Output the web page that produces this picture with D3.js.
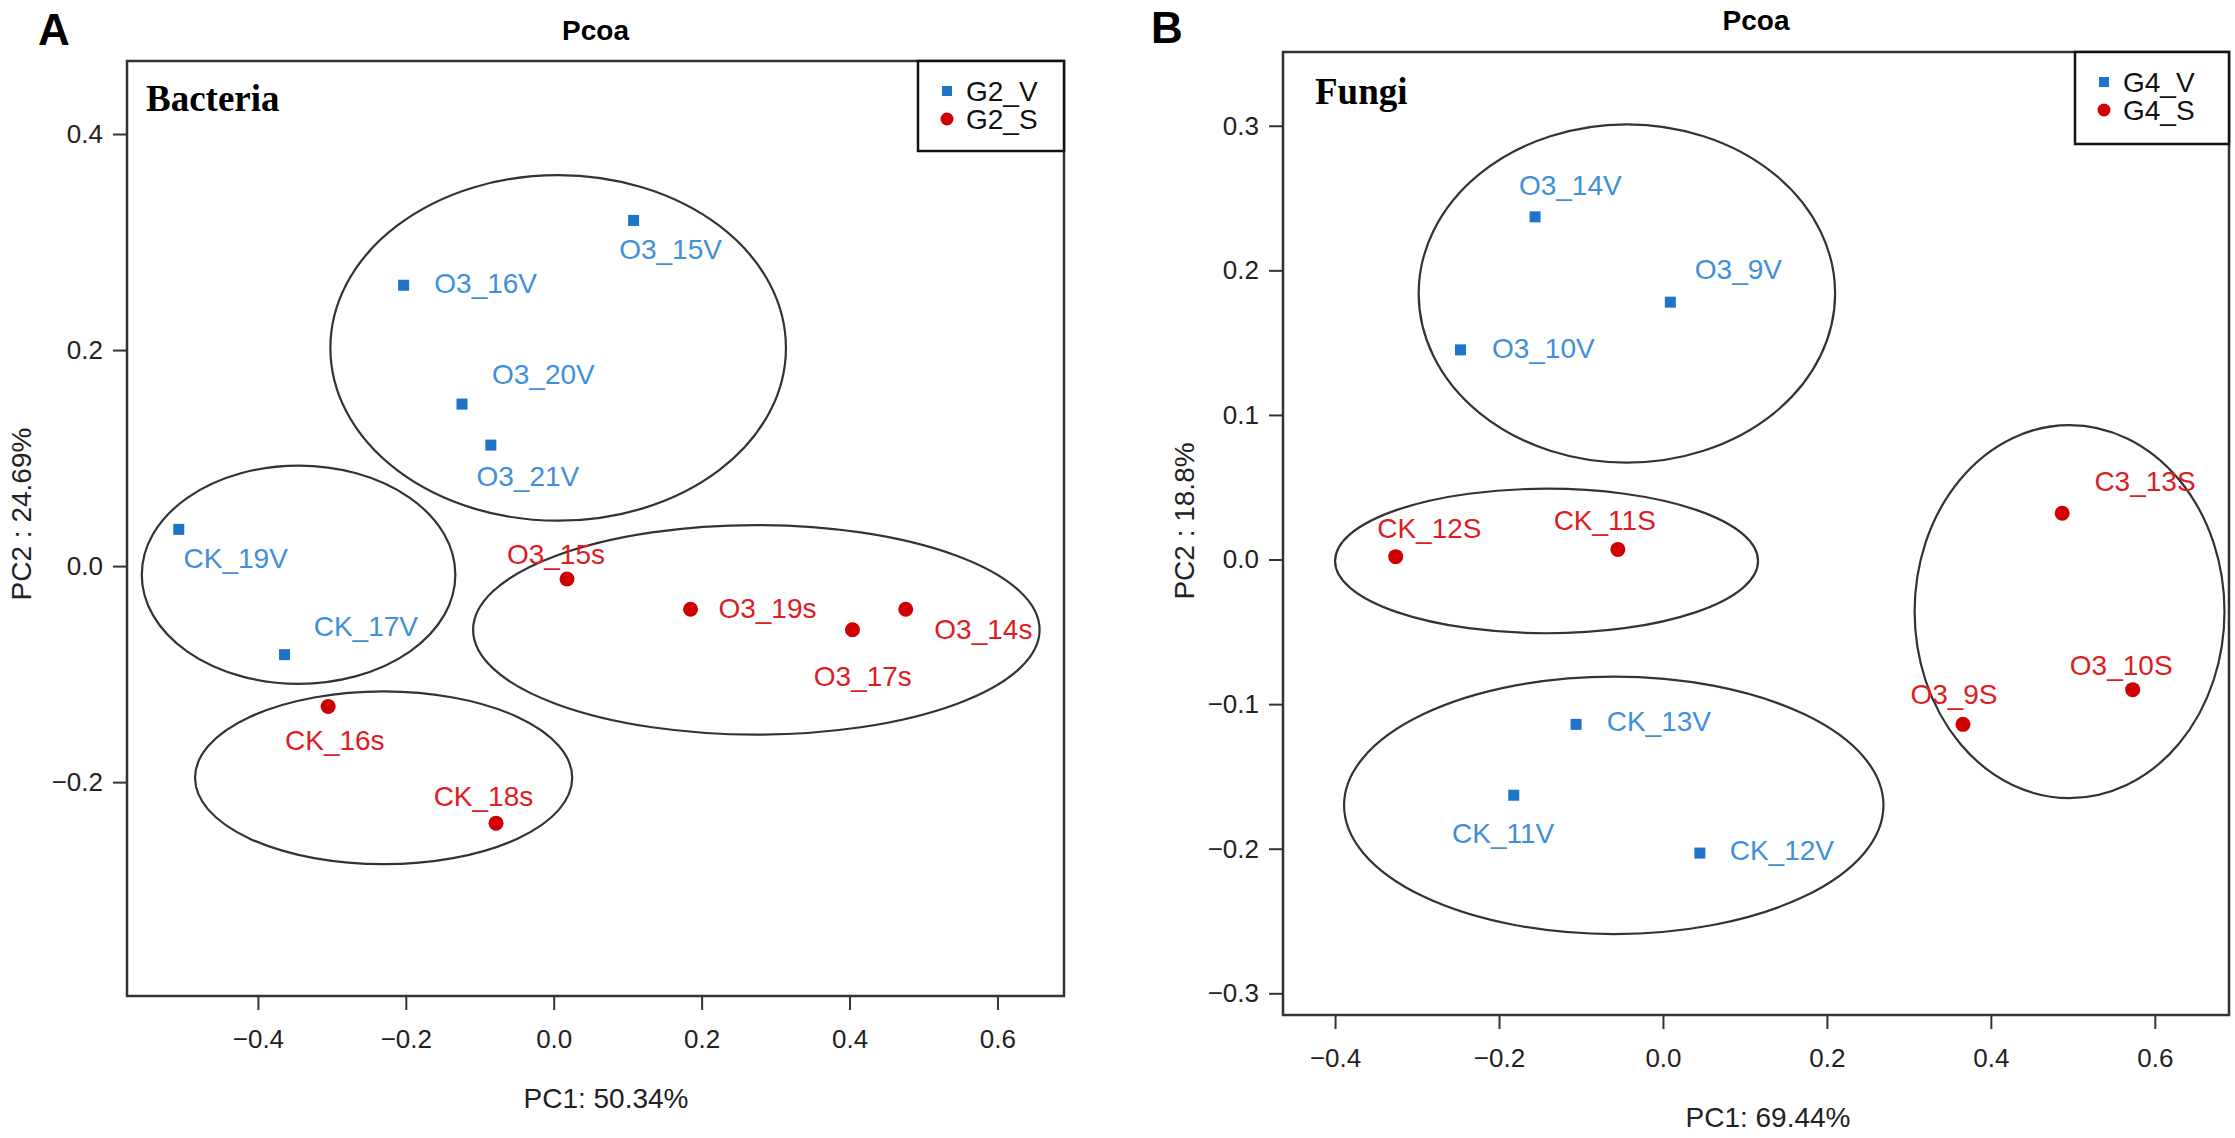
<!DOCTYPE html>
<html>
<head>
<meta charset="utf-8">
<script src="https://cdn.jsdelivr.net/npm/d3@7"></script>
<style>
  body { margin: 0; background: #fff; }
  text { font-family: "Liberation Sans", Arial, sans-serif; }
</style>
</head>
<body>
<div id="chart"></div>
<script>
// ---- data: panel A (bacteria) ----
const bactNames  = ["O3_15V", "O3_16V", "O3_20V", "O3_21V", "CK_19V", "CK_17V",
                    "O3_15s", "O3_19s", "O3_17s", "O3_14s", "CK_16s", "CK_18s"];
const bactGroup  = ["V", "V", "V", "V", "V", "V", "S", "S", "S", "S", "S", "S"];
const bactPC1    = [0.108, -0.203, -0.124, -0.085, -0.507, -0.364, 0.018, 0.185, 0.404, 0.476, -0.305, -0.078];
const bactPC2    = [0.320, 0.260, 0.150, 0.112, 0.034, -0.082, -0.012, -0.040, -0.059, -0.040, -0.130, -0.238];
const bactLabX   = [0.158, -0.092, -0.014, -0.035, -0.430, -0.254, 0.003, 0.289, 0.418, 0.581, -0.296, -0.095];
const bactLabY   = [0.293, 0.262, 0.178, 0.083, 0.007, -0.056, 0.011, -0.039, -0.102, -0.058, -0.161, -0.213];
// group ellipses (centre, half-widths)
const bactEllCx  = [0.006, -0.345, 0.274, -0.230];
const bactEllCy  = [0.202, -0.008, -0.059, -0.196];
const bactEllRx  = [0.308, 0.212, 0.383, 0.255];
const bactEllRy  = [0.160, 0.101, 0.097, 0.080];

// ---- data: panel B (fungi) ----
const fungNames  = ["O3_14V", "O3_9V", "O3_10V", "CK_13V", "CK_11V", "CK_12V",
                    "C3_13S", "CK_12S", "CK_11S", "O3_9S", "O3_10S"];
const fungGroup  = ["V", "V", "V", "V", "V", "V", "S", "S", "S", "S", "S"];
const fungPC1    = [-0.156, 0.009, -0.247, -0.106, -0.182, 0.045, 0.487, -0.326, -0.055, 0.366, 0.573];
const fungPC2    = [0.237, 0.178, 0.145, -0.114, -0.163, -0.203, 0.032, 0.002, 0.007, -0.114, -0.090];
const fungLabX   = [-0.113, 0.092, -0.146, -0.005, -0.195, 0.145, 0.588, -0.285, -0.071, 0.355, 0.559];
const fungLabY   = [0.259, 0.201, 0.146, -0.112, -0.189, -0.201, 0.054, 0.022, 0.027, -0.093, -0.073];
const fungEllCx  = [-0.044, -0.142, -0.060, 0.496];
const fungEllCy  = [0.184, -0.001, -0.170, -0.036];
const fungEllRx  = [0.254, 0.258, 0.329, 0.189];
const fungEllRy  = [0.117, 0.050, 0.089, 0.129];

const xTicks = [-0.4, -0.2, 0.0, 0.2, 0.4, 0.6];
const bactYTicks = [-0.2, 0.0, 0.2, 0.4];
const fungYTicks = [-0.3, -0.2, -0.1, 0.0, 0.1, 0.2, 0.3];

const colors = { V: "#1f74c9", S: "#d00000" };
const labelColors = { V: "#3f8fd9", S: "#dd1c24" };

const W = 2235, H = 1138;
const svg = d3.select("#chart").append("svg")
    .attr("width", W).attr("height", H);

function zip(names, group, x, y, lx, ly) {
    return names.map((n, i) => ({ name: n, g: group[i], x: x[i], y: y[i], lx: lx[i], ly: ly[i] }));
}
function zipEll(cx, cy, rx, ry) {
    return cx.map((d, i) => ({ cx: d, cy: cy[i], rx: rx[i], ry: ry[i] }));
}

function drawPanel(p) {
    const g = svg.append("g");
    const x = d3.scaleLinear().domain(p.xDomain).range([p.left, p.right]);
    const y = d3.scaleLinear().domain(p.yDomain).range([p.bottom, p.top]);

    // panel letter + title
    g.append("text")
        .attr("x", p.letterX).attr("y", p.letterY)
        .style("font-size", "44px").style("font-weight", "bold")
        .text(p.letter);
    g.append("text")
        .attr("x", (p.left + p.right) / 2).attr("y", p.titleY)
        .attr("text-anchor", "middle")
        .style("font-size", "28px").style("font-weight", "bold")
        .text("Pcoa");

    // axes
    const xAxis = g.append("g")
        .attr("transform", `translate(0,${p.bottom})`)
        .call(d3.axisBottom(x).tickValues(xTicks).tickFormat(d3.format(".1f")).tickSize(14).tickPadding(20));
    const yAxis = g.append("g")
        .attr("transform", `translate(${p.left},0)`)
        .call(d3.axisLeft(y).tickValues(p.yTicks).tickFormat(d3.format(".1f")).tickSize(14).tickPadding(10));
    [xAxis, yAxis].forEach(a => {
        a.select(".domain").remove();
        a.selectAll("line").attr("stroke", "#333").attr("stroke-width", 2);
        a.selectAll("text")
            .style("font-size", "26px")
            .style("font-family", "'Liberation Sans', Arial, sans-serif")
            .attr("fill", "#222");
    });

    // box
    g.append("rect")
        .attr("x", p.left).attr("y", p.top)
        .attr("width", p.right - p.left).attr("height", p.bottom - p.top)
        .attr("fill", "none").attr("stroke", "#333").attr("stroke-width", 2.5);

    // axis titles
    g.append("text")
        .attr("x", p.xLabX).attr("y", p.xLabY)
        .attr("text-anchor", "middle").attr("dy", "0.35em")
        .style("font-size", "28px").attr("fill", "#222")
        .text(p.xLabel);
    g.append("text")
        .attr("transform", `translate(${p.yLabX},${p.yLabY}) rotate(-90)`)
        .attr("text-anchor", "middle").attr("dy", "0.35em")
        .style("font-size", "28px").attr("fill", "#222")
        .text(p.yLabel);

    // sub-heading
    g.append("text")
        .attr("x", p.headX).attr("y", p.headY)
        .style("font-family", "'Liberation Serif', 'Times New Roman', serif")
        .style("font-size", "37px").style("font-weight", "bold")
        .text(p.heading);

    // ellipses
    g.selectAll("ellipse.grp")
        .data(p.ellipses)
        .join("ellipse")
        .attr("class", "grp")
        .attr("cx", d => x(d.cx)).attr("cy", d => y(d.cy))
        .attr("rx", d => x(d.rx) - x(0)).attr("ry", d => y(0) - y(d.ry))
        .attr("fill", "none").attr("stroke", "#333").attr("stroke-width", 2.2);

    // points
    g.selectAll("rect.pt")
        .data(p.points.filter(d => d.g === "V"))
        .join("rect")
        .attr("class", "pt")
        .attr("x", d => x(d.x) - 5.5).attr("y", d => y(d.y) - 5.5)
        .attr("width", 11).attr("height", 11)
        .attr("fill", colors.V);
    g.selectAll("circle.pt")
        .data(p.points.filter(d => d.g === "S"))
        .join("circle")
        .attr("class", "pt")
        .attr("cx", d => x(d.x)).attr("cy", d => y(d.y))
        .attr("r", 7.5)
        .attr("fill", colors.S);

    // labels
    g.selectAll("text.lab")
        .data(p.points)
        .join("text")
        .attr("class", "lab")
        .attr("x", d => x(d.lx)).attr("y", d => y(d.ly))
        .attr("text-anchor", "middle").attr("dy", "0.35em")
        .style("font-size", "28px")
        .attr("fill", d => labelColors[d.g])
        .text(d => d.name);

    // legend
    const lg = g.append("g");
    lg.append("rect")
        .attr("x", p.legX).attr("y", p.top)
        .attr("width", p.right - p.legX).attr("height", p.legH)
        .attr("fill", "#fff").attr("stroke", "#111").attr("stroke-width", 2.5);
    p.legend.forEach((name, i) => {
        const cy = p.top + 30 + i * 28;
        if (i === 0) {
            lg.append("rect").attr("x", p.legX + 24).attr("y", cy - 5).attr("width", 10).attr("height", 10)
                .attr("fill", colors.V);
        } else {
            lg.append("circle").attr("cx", p.legX + 29).attr("cy", cy).attr("r", 6.5)
                .attr("fill", colors.S);
        }
        lg.append("text")
            .attr("x", p.legX + 48).attr("y", cy).attr("dy", "0.35em")
            .style("font-size", "28px").attr("fill", "#111")
            .text(name);
    });
}

drawPanel({
    letter: "A", letterX: 38, letterY: 45, titleY: 40,
    left: 127, right: 1064, top: 61, bottom: 996,
    xDomain: [-0.577, 0.690], yDomain: [-0.398, 0.4676],
    yTicks: bactYTicks,
    xLabel: "PC1: 50.34%", xLabX: 606, xLabY: 1098,
    yLabel: "PC2 : 24.69%", yLabX: 21, yLabY: 514,
    heading: "Bacteria", headX: 146, headY: 111,
    legend: ["G2_V", "G2_S"], legX: 918, legH: 90,
    points: zip(bactNames, bactGroup, bactPC1, bactPC2, bactLabX, bactLabY),
    ellipses: zipEll(bactEllCx, bactEllCy, bactEllRx, bactEllRy)
});

drawPanel({
    letter: "B", letterX: 1151, letterY: 43, titleY: 30,
    left: 1283, right: 2229, top: 52, bottom: 1015,
    xDomain: [-0.4635, 0.6905], yDomain: [-0.315, 0.351],
    yTicks: fungYTicks,
    xLabel: "PC1: 69.44%", xLabX: 1768, xLabY: 1117,
    yLabel: "PC2 : 18.8%", yLabX: 1184, yLabY: 521,
    heading: "Fungi", headX: 1315, headY: 104,
    legend: ["G4_V", "G4_S"], legX: 2075, legH: 92,
    points: zip(fungNames, fungGroup, fungPC1, fungPC2, fungLabX, fungLabY),
    ellipses: zipEll(fungEllCx, fungEllCy, fungEllRx, fungEllRy)
});
</script>
</body>
</html>
